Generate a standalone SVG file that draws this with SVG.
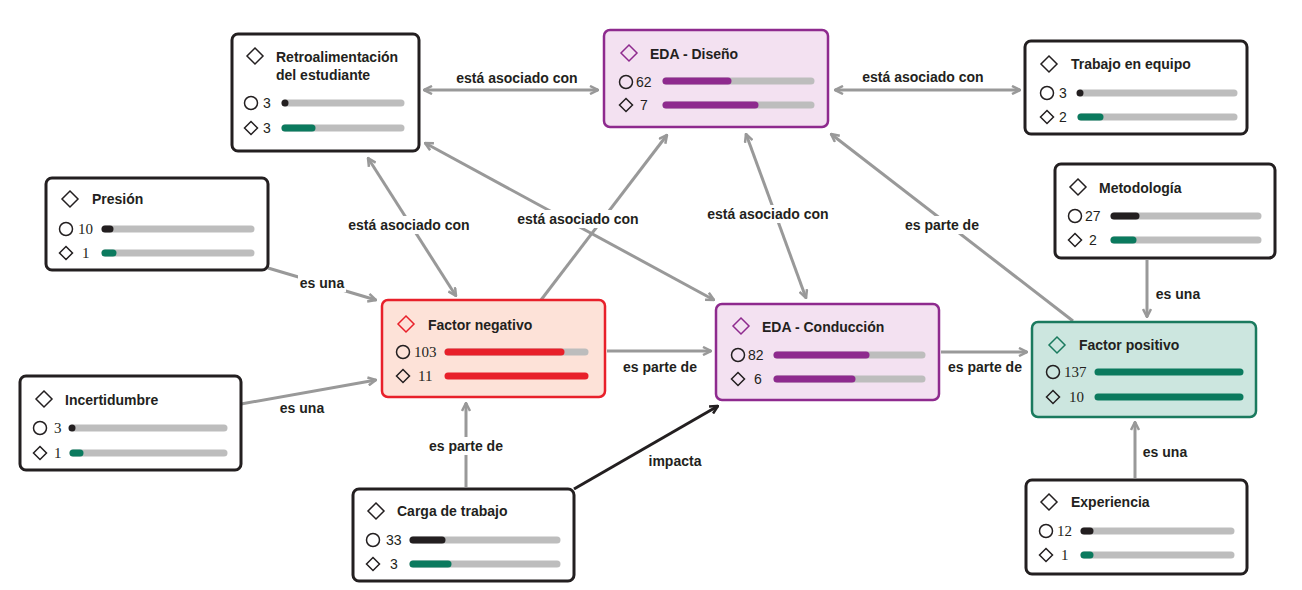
<svg xmlns="http://www.w3.org/2000/svg" width="1302" height="590" viewBox="0 0 1302 590">
<style>
text{font-family:"Liberation Sans",Arial,sans-serif;fill:#231f20;dominant-baseline:central}
.t{font-size:14px;font-weight:bold}
.n{font-size:14px}
.ns{font-size:15px;font-family:"Liberation Serif","Times New Roman",serif}
.lbl{font-size:14px;font-weight:bold;text-anchor:middle}
.box{fill:#fff;stroke:#231f20;stroke-width:3}
.ico{fill:none;stroke:#231f20;stroke-width:1.5}
.bg{stroke:#bdbdbd;stroke-width:7;stroke-linecap:round}
.bk{stroke:#231f20;stroke-width:7;stroke-linecap:round}
.gr{stroke:#0b7a5e;stroke-width:7;stroke-linecap:round}
.pu{stroke:#8e2a8e;stroke-width:7;stroke-linecap:round}
.rd{stroke:#e8202a;stroke-width:7;stroke-linecap:round}
.c{stroke:#999;stroke-width:3;fill:none}
.cb{stroke:#231f20;stroke-width:3;fill:none}
.lb{fill:#fff}
</style>
<defs>
<marker id="a" viewBox="0 0 10 10" refX="9" refY="5" markerWidth="10" markerHeight="10" markerUnits="userSpaceOnUse" orient="auto-start-reverse">
<path d="M1,1 L9,5 L1,9" fill="none" stroke="#999" stroke-width="2.5"/>
</marker>
<marker id="ab" viewBox="0 0 10 10" refX="9" refY="5" markerWidth="10" markerHeight="10" markerUnits="userSpaceOnUse" orient="auto-start-reverse">
<path d="M1,1 L9,5 L1,9" fill="none" stroke="#231f20" stroke-width="2.5"/>
</marker>
<path id="dL" d="M0,-8 L8,0 L0,8 L-8,0 Z"/>
<path id="dS" d="M0,-6.5 L6.5,0 L0,6.5 L-6.5,0 Z"/>
</defs>

<g id="connectors">
<line class="c" x1="424" y1="90" x2="598" y2="90" marker-start="url(#a)" marker-end="url(#a)"/>
<line class="c" x1="835" y1="90" x2="1020" y2="90" marker-start="url(#a)" marker-end="url(#a)"/>
<line class="c" x1="368" y1="158" x2="456" y2="296" marker-start="url(#a)" marker-end="url(#a)"/>
<line class="c" x1="425" y1="143" x2="714" y2="300" marker-start="url(#a)" marker-end="url(#a)"/>
<line class="c" x1="541" y1="300" x2="667" y2="135" marker-end="url(#a)"/>
<line class="c" x1="746" y1="134" x2="806" y2="298" marker-start="url(#a)" marker-end="url(#a)"/>
<line class="c" x1="1073" y1="321" x2="831" y2="134" marker-end="url(#a)"/>
<line class="c" x1="268" y1="268" x2="376" y2="300" marker-end="url(#a)"/>
<line class="c" x1="241" y1="404" x2="376" y2="380" marker-end="url(#a)"/>
<line class="c" x1="607" y1="351" x2="711" y2="351" marker-end="url(#a)"/>
<line class="c" x1="941" y1="352" x2="1027" y2="352" marker-end="url(#a)"/>
<line class="c" x1="1147" y1="260" x2="1147" y2="317" marker-end="url(#a)"/>
<line class="c" x1="1135" y1="478" x2="1135" y2="422" marker-end="url(#a)"/>
<line class="c" x1="466" y1="487" x2="466" y2="403" marker-end="url(#a)"/>
<line class="cb" x1="574" y1="489" x2="718" y2="406" marker-end="url(#ab)"/>
<text class="lbl" x="517" y="78">está asociado con</text>
<text class="lbl" x="923" y="77">está asociado con</text>
<rect class="lb" x="349" y="216" width="121" height="18"/>
<text class="lbl" x="409" y="225">está asociado con</text>
<rect class="lb" x="518" y="210" width="121" height="18"/>
<text class="lbl" x="578" y="219">está asociado con</text>
<rect class="lb" x="708" y="205" width="121" height="18"/>
<text class="lbl" x="768" y="214">está asociado con</text>
<rect class="lb" x="904" y="216" width="76" height="18"/>
<text class="lbl" x="942" y="225">es parte de</text>
<rect class="lb" x="298" y="274" width="48" height="18"/>
<text class="lbl" x="322" y="283">es una</text>
<text class="lbl" x="302" y="408">es una</text>
<text class="lbl" x="660" y="367">es parte de</text>
<text class="lbl" x="985" y="367">es parte de</text>
<text class="lbl" x="1178" y="294">es una</text>
<text class="lbl" x="1165" y="452">es una</text>
<rect class="lb" x="428" y="437" width="76" height="18"/>
<text class="lbl" x="466" y="446">es parte de</text>
<text class="lbl" x="675" y="461">impacta</text>
</g>

<g id="retro">
<rect class="box" x="232" y="34" width="187" height="117" rx="6"/>
<use href="#dL" class="ico" x="255" y="56"/>
<text class="t" x="276" y="57">Retroalimentación</text>
<text class="t" x="276" y="75">del estudiante</text>
<circle class="ico" cx="251" cy="103" r="6.5"/>
<text class="n" x="263" y="103">3</text>
<line class="bg" x1="285" y1="103" x2="401" y2="103"/>
<line class="bk" x1="285" y1="103" x2="285" y2="103"/>
<use href="#dS" class="ico" x="251" y="128"/>
<text class="n" x="263" y="128">3</text>
<line class="bg" x1="285" y1="128" x2="401" y2="128"/>
<line class="gr" x1="285" y1="128" x2="312" y2="128"/>
</g>

<g id="eda-diseno">
<rect x="604" y="30" width="224" height="97" rx="6" fill="#f3e1f1" stroke="#8e2a8e" stroke-width="2.5"/>
<use href="#dL" fill="none" stroke="#8e2a8e" stroke-width="1.5" x="629" y="53"/>
<text class="t" x="650" y="54">EDA - Diseño</text>
<circle class="ico" cx="626" cy="82" r="6.5"/>
<text class="n" x="636" y="82">62</text>
<line class="bg" x1="666" y1="81" x2="811" y2="81"/>
<line class="pu" x1="666" y1="81" x2="728" y2="81"/>
<use href="#dS" class="ico" x="626" y="105"/>
<text class="n" x="640" y="105">7</text>
<line class="bg" x1="666" y1="105" x2="811" y2="105"/>
<line class="pu" x1="666" y1="105" x2="755" y2="105"/>
</g>

<g id="trabajo">
<rect class="box" x="1025" y="41" width="222" height="93" rx="6"/>
<use href="#dL" class="ico" x="1049" y="64"/>
<text class="t" x="1071" y="64">Trabajo en equipo</text>
<circle class="ico" cx="1047" cy="93" r="6.5"/>
<text class="n" x="1059" y="93">3</text>
<line class="bg" x1="1081" y1="93" x2="1234" y2="93"/>
<line class="bk" x1="1080" y1="93" x2="1080" y2="93"/>
<use href="#dS" class="ico" x="1047" y="117"/>
<text class="n" x="1059" y="117">2</text>
<line class="bg" x1="1081" y1="117" x2="1234" y2="117"/>
<line class="gr" x1="1081" y1="117" x2="1100" y2="117"/>
</g>

<g id="presion">
<rect class="box" x="46" y="178" width="222" height="92" rx="6"/>
<use href="#dL" class="ico" x="70" y="199"/>
<text class="t" x="92" y="199">Presión</text>
<circle class="ico" cx="66" cy="229" r="6.5"/>
<text class="ns" x="78" y="229">10</text>
<line class="bg" x1="105" y1="229" x2="251" y2="229"/>
<line class="bk" x1="105" y1="229" x2="110" y2="229"/>
<use href="#dS" class="ico" x="66" y="253"/>
<text class="ns" x="82" y="253">1</text>
<line class="bg" x1="105" y1="253" x2="251" y2="253"/>
<line class="gr" x1="105" y1="253" x2="113" y2="253"/>
</g>

<g id="metodologia">
<rect class="box" x="1055" y="164" width="220" height="94" rx="6"/>
<use href="#dL" class="ico" x="1078" y="187"/>
<text class="t" x="1099" y="188">Metodología</text>
<circle class="ico" cx="1075" cy="216" r="6.5"/>
<text class="n" x="1085" y="216">27</text>
<line class="bg" x1="1114" y1="216" x2="1258" y2="216"/>
<line class="bk" x1="1114" y1="216" x2="1136" y2="216"/>
<use href="#dS" class="ico" x="1075" y="240"/>
<text class="n" x="1089" y="240">2</text>
<line class="bg" x1="1114" y1="240" x2="1258" y2="240"/>
<line class="gr" x1="1114" y1="240" x2="1133" y2="240"/>
</g>

<g id="factor-negativo">
<rect x="382" y="300" width="223" height="97" rx="6" fill="#fde2d8" stroke="#e8202a" stroke-width="2.5"/>
<use href="#dL" fill="none" stroke="#e8202a" stroke-width="1.5" x="406" y="324"/>
<text class="t" x="428" y="325">Factor negativo</text>
<circle class="ico" cx="403" cy="352" r="6.5"/>
<text class="ns" x="414" y="352">103</text>
<line class="bg" x1="448" y1="352" x2="585" y2="352"/>
<line class="rd" x1="448" y1="352" x2="561" y2="352"/>
<use href="#dS" class="ico" x="403" y="376"/>
<text class="ns" x="418" y="376">11</text>
<line class="rd" x1="448" y1="376" x2="585" y2="376"/>
</g>

<g id="eda-conduccion">
<rect x="716" y="304" width="223" height="96" rx="6" fill="#f3e1f1" stroke="#8e2a8e" stroke-width="2.5"/>
<use href="#dL" fill="none" stroke="#8e2a8e" stroke-width="1.5" x="741" y="326"/>
<text class="t" x="762" y="327">EDA - Conducción</text>
<circle class="ico" cx="738" cy="355" r="6.5"/>
<text class="n" x="748" y="355">82</text>
<line class="bg" x1="777" y1="355" x2="922" y2="355"/>
<line class="pu" x1="777" y1="355" x2="866" y2="355"/>
<use href="#dS" class="ico" x="738" y="379"/>
<text class="n" x="754" y="379">6</text>
<line class="bg" x1="777" y1="379" x2="922" y2="379"/>
<line class="pu" x1="777" y1="379" x2="852" y2="379"/>
</g>

<g id="factor-positivo">
<rect x="1032" y="322" width="224" height="95" rx="6" fill="#cce6df" stroke="#1a7a5e" stroke-width="2.5"/>
<use href="#dL" fill="none" stroke="#1a7a5e" stroke-width="1.5" x="1057" y="345"/>
<text class="t" x="1079" y="345">Factor positivo</text>
<circle class="ico" cx="1053" cy="372" r="6.5"/>
<text class="ns" x="1064" y="372">137</text>
<line class="gr" x1="1098" y1="372" x2="1240" y2="372"/>
<use href="#dS" class="ico" x="1053" y="397"/>
<text class="ns" x="1069" y="397">10</text>
<line class="gr" x1="1098" y1="397" x2="1240" y2="397"/>
</g>

<g id="incertidumbre">
<rect class="box" x="20" y="376" width="221" height="94" rx="6"/>
<use href="#dL" class="ico" x="44" y="399"/>
<text class="t" x="65" y="400">Incertidumbre</text>
<circle class="ico" cx="40" cy="428" r="6.5"/>
<text class="ns" x="54" y="428">3</text>
<line class="bg" x1="73" y1="428" x2="224" y2="428"/>
<line class="bk" x1="72" y1="428" x2="72" y2="428"/>
<use href="#dS" class="ico" x="40" y="453"/>
<text class="ns" x="54" y="453">1</text>
<line class="bg" x1="73" y1="453" x2="224" y2="453"/>
<line class="gr" x1="73" y1="453" x2="80" y2="453"/>
</g>

<g id="carga">
<rect class="box" x="353" y="489" width="221" height="92" rx="6"/>
<use href="#dL" class="ico" x="376" y="511"/>
<text class="t" x="397" y="511">Carga de trabajo</text>
<circle class="ico" cx="373" cy="540" r="6.5"/>
<text class="n" x="386" y="540">33</text>
<line class="bg" x1="413" y1="540" x2="557" y2="540"/>
<line class="bk" x1="413" y1="540" x2="442" y2="540"/>
<use href="#dS" class="ico" x="373" y="564"/>
<text class="n" x="390" y="564">3</text>
<line class="bg" x1="413" y1="564" x2="557" y2="564"/>
<line class="gr" x1="413" y1="564" x2="448" y2="564"/>
</g>

<g id="experiencia">
<rect class="box" x="1026" y="480" width="221" height="94" rx="6"/>
<use href="#dL" class="ico" x="1049" y="502"/>
<text class="t" x="1071" y="502">Experiencia</text>
<circle class="ico" cx="1046" cy="531" r="6.5"/>
<text class="ns" x="1057" y="531">12</text>
<line class="bg" x1="1084" y1="531" x2="1231" y2="531"/>
<line class="bk" x1="1084" y1="531" x2="1090" y2="531"/>
<use href="#dS" class="ico" x="1046" y="555"/>
<text class="ns" x="1061" y="555">1</text>
<line class="bg" x1="1084" y1="555" x2="1231" y2="555"/>
<line class="gr" x1="1084" y1="555" x2="1090" y2="555"/>
</g>
</svg>
